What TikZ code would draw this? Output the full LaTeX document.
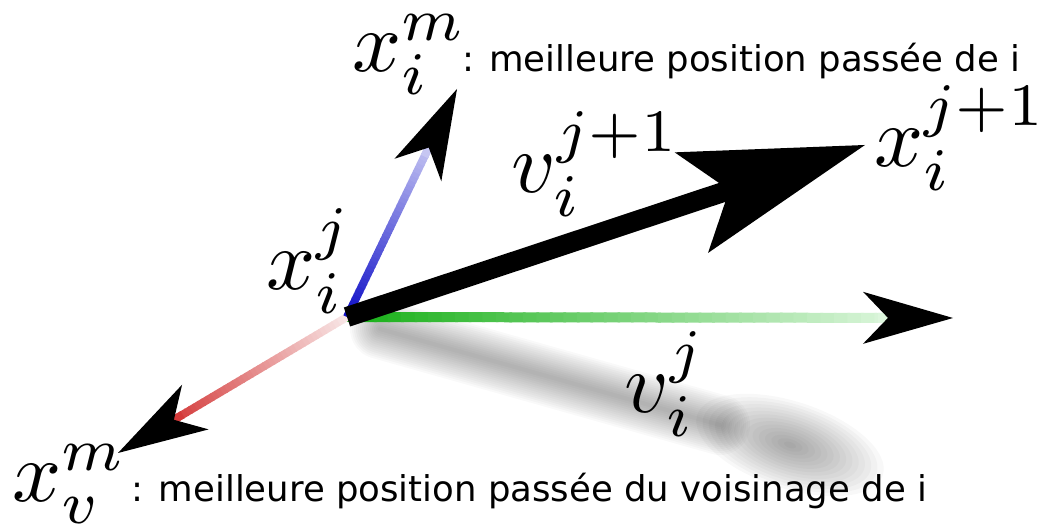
\documentclass[tikz,border=0pt]{standalone}
\usepackage{fontspec}
\newfontfamily\legendfont{DejaVu Sans}
\usetikzlibrary{arrows.meta,calc}
\definecolor{vbluedark}{HTML}{1010C8}
\definecolor{vbluelight}{HTML}{C6C6F2}
\definecolor{vgreendark}{HTML}{18B018}
\definecolor{vgreenlight}{HTML}{DDF6DD}
\definecolor{vreddark}{HTML}{D43A3A}
\definecolor{vredlight}{HTML}{F8E6E6}

\begin{document}
\begin{tikzpicture}[
  mlabel/.style={scale=4.9, inner sep=0pt, anchor=base west},
  legend/.style={font=\legendfont\fontsize{20.2}{24}\selectfont, inner sep=0pt, anchor=base west},
  bighead/.style={-{Stealth[length=3.66cm, width=2.12cm, inset=0.8cm, line width=0pt]}},
  smallhead/.style={-{Stealth[length=1.8cm, width=1.04cm, inset=0.5cm, line width=0pt, black]}}]
  \useasboundingbox (0,0) rectangle (20.76,10.52);

  % particle and the four ends
  \coordinate (xi) at (6.94,4.18);
  \coordinate (xnext) at (17.30,7.62);
  \coordinate (xim) at (9.14,8.74);
  \coordinate (vend) at (19.06,4.16);
  \coordinate (xvm) at (2.36,1.46);
  % where the shafts meet the heads
  \coordinate (ximb) at ($(xim)!1.3cm!(xi)$);
  \coordinate (vendb) at ($(vend)!1.3cm!(xi)$);
  \coordinate (xvmb) at ($(xvm)!1.3cm!(xi)$);

  % blurred shadow
  \coordinate (s1) at (7.6,3.94);
  \coordinate (s2) at (14.4,2.02);
  \coordinate (s3) at (15.8,1.62);
  \foreach \i in {1,...,15}
    \draw[line width={0.08*\i cm}, black, opacity=0.022, line cap=round] (s1) -- (s2);
  \foreach \i in {1,...,15}
    \fill[black, opacity=0.028, rotate around={-18:(s3)}] (s3) ellipse ({0.13*\i} and {0.058*\i});

  % v_i^j (green)
  \foreach \k in {0,...,39}{
    \pgfmathsetmacro\p{100-2.5*\k}
    \draw[line width=0.2cm, vgreendark!\p!vgreenlight] ($(xi)!{\k/40}!(vendb)$) -- ($(xi)!{(\k+1.2)/40}!(vendb)$);
  }
  \draw[line width=0.2cm, vgreenlight, smallhead] ($(vend)!1.5cm!(xi)$) -- (vend);

  % neighbourhood best (red)
  \foreach \k in {0,...,39}{
    \pgfmathsetmacro\p{2.5*\k}
    \draw[line width=0.16cm, vreddark!\p!vredlight] ($(xi)!{\k/40}!(xvmb)$) -- ($(xi)!{(\k+1.2)/40}!(xvmb)$);
  }
  \draw[line width=0.16cm, vreddark, smallhead] ($(xvm)!1.5cm!(xi)$) -- (xvm);

  % own best (blue)
  \foreach \k in {0,...,39}{
    \pgfmathsetmacro\p{100-2.5*\k}
    \draw[line width=0.16cm, vbluedark!\p!vbluelight] ($(xi)!{\k/40}!(ximb)$) -- ($(xi)!{(\k+1.2)/40}!(ximb)$);
  }
  \draw[line width=0.16cm, vbluelight, smallhead] ($(xim)!1.5cm!(xi)$) -- (xim);

  % new velocity
  \draw[line width=0.4cm, bighead] (xi) -- (xnext);

  % labels
  \node[mlabel] (lxim) at (7.02,9.08) {$x_i^m$};
  \node[legend, xshift=-0.14cm] (bestown) at (lxim.base east) {: meilleure position passée de i};
  \node[mlabel] (lxnext) at (17.46,7.18) {$x_i^{j+1}$};
  \node[mlabel] (lvnext) at (10.20,6.66) {$v_i^{j+1}$};
  \node[mlabel] (lxi) at (5.30,4.72) {$x_i^j$};
  \node[mlabel] (lv) at (12.46,2.26) {$v_i^j$};
  \node[mlabel] (lxvm) at (0.22,0.48) {$x_v^m$};
  \node[legend, xshift=0.05cm] (bestnb) at (lxvm.base east) {: meilleure position passée du voisinage de i};
\end{tikzpicture}
\end{document}
